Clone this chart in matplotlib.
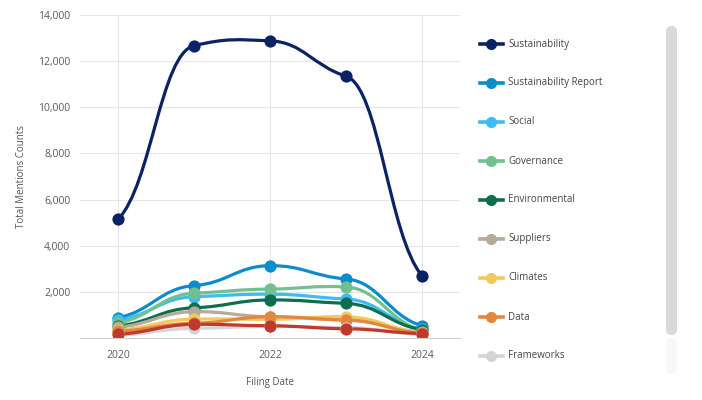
import numpy as np
import matplotlib
matplotlib.use('Agg')
import matplotlib.pyplot as plt
from matplotlib.path import Path
from matplotlib.patches import PathPatch, FancyBboxPatch
from matplotlib.lines import Line2D
from matplotlib.ticker import FuncFormatter

plt.rcParams['font.family'] = ['Open Sans', 'DejaVu Sans']

years = [2020, 2021, 2022, 2023, 2024]

series_names = ["Sustainability", "Sustainability Report", "Social", "Governance",
                "Environmental", "Suppliers", "Climates", "Data", "Frameworks", "_other"]
series_colors = ["#0b2265", "#0a8ccd", "#3dbcf2", "#72c08f", "#0f6e4e",
                 "#b6aa99", "#f3c95f", "#e3873f", "#d2d4d6", "#c0392e"]

sustainability = [5140, 12670, 12880, 11350, 2700]
sustainability_report = [880, 2270, 3135, 2560, 530]
social = [780, 1790, 1900, 1690, 380]
governance = [650, 1940, 2120, 2210, 330]
environmental = [520, 1310, 1650, 1500, 360]
suppliers = [460, 1140, 920, 780, 260]
climates = [340, 820, 810, 920, 220]
data = [290, 640, 920, 780, 200]
frameworks = [120, 420, 500, 450, 150]
other = [160, 590, 530, 400, 190]

all_values = [sustainability, sustainability_report, social, governance, environmental,
              suppliers, climates, data, frameworks, other]


def smooth_path(xs, ys, handle=0.44, tension=0.2, end=0.45):
    # bezier through every point, long flat handles like the original renderer
    xs = np.asarray(xs, float)
    ys = np.asarray(ys, float)
    n = len(xs)
    slopes = np.zeros(n)
    for i in range(1, n - 1):
        slopes[i] = tension * (ys[i + 1] - ys[i - 1]) / (xs[i + 1] - xs[i - 1])
    slopes[0] = end * (ys[1] - ys[0]) / (xs[1] - xs[0])
    slopes[-1] = end * (ys[-1] - ys[-2]) / (xs[-1] - xs[-2])
    verts = [(xs[0], ys[0])]
    codes = [Path.MOVETO]
    for i in range(n - 1):
        h = handle * (xs[i + 1] - xs[i])
        verts += [(xs[i] + h, ys[i] + slopes[i] * h),
                  (xs[i + 1] - h, ys[i + 1] - slopes[i + 1] * h),
                  (xs[i + 1], ys[i + 1])]
        codes += [Path.CURVE4] * 3
    return Path(verts, codes)


fig = plt.figure(figsize=(7.02, 4), dpi=100)
ax = fig.add_axes([80 / 702, 62 / 400, 380 / 702, 323 / 400])
ax.set_xlim(2019.5, 2024.5)
ax.set_ylim(0, 14000)

for name, color, vals in zip(series_names, series_colors, all_values):
    ax.add_patch(PathPatch(smooth_path(years, vals), facecolor='none', edgecolor=color,
                           lw=2.3, capstyle='round', joinstyle='round'))
    ax.plot(years, vals, 'o', color=color, ms=8.8, mew=0, label=name)

ax.set_xticks([2020, 2022, 2024])
ax.set_yticks(range(2000, 14001, 2000))
ax.yaxis.set_major_formatter(FuncFormatter(lambda v, p: f"{int(v):,}"))
ax.grid(True, color='#e6e6e6', lw=0.8)
ax.set_axisbelow(True)
for s in ['top', 'right', 'left']:
    ax.spines[s].set_visible(False)
ax.spines['bottom'].set_color('#cccccc')
ax.tick_params(length=0, labelsize=7.5, colors='#5a5a5a', pad=9)
ax.tick_params(axis='y', pad=7)
ax.set_xlabel("Filing Date", fontsize=7, color='#555555', labelpad=11)
ax.set_ylabel("Total Mentions Counts", fontsize=7, color='#555555', labelpad=8)

# overlay in pixel units for legend and scrollbar
ov = fig.add_axes([0, 0, 1, 1], zorder=5)
ov.set_xlim(0, 702)
ov.set_ylim(400, 0)
ov.axis('off')

for i, (name, color) in enumerate(zip(series_names[:9], series_colors[:9])):
    y = 44 + 39 * i
    ov.add_line(Line2D([480, 503], [y, y], color=color, lw=2.6))
    ov.plot([491], [y], 'o', ms=8, color=color, mew=0)
    ov.text(508, y, name, fontsize=7, color='#444444', va='center')

ov.add_patch(FancyBboxPatch((666, 26), 11, 309, boxstyle="round,pad=0,rounding_size=5.5",
                            facecolor='#d9d9d9', edgecolor='none'))
ov.add_patch(FancyBboxPatch((666, 338), 11, 36, boxstyle="round,pad=0,rounding_size=5.5",
                            facecolor='#f8f8f8', edgecolor='none'))

fig.savefig("out.png", dpi=100)
